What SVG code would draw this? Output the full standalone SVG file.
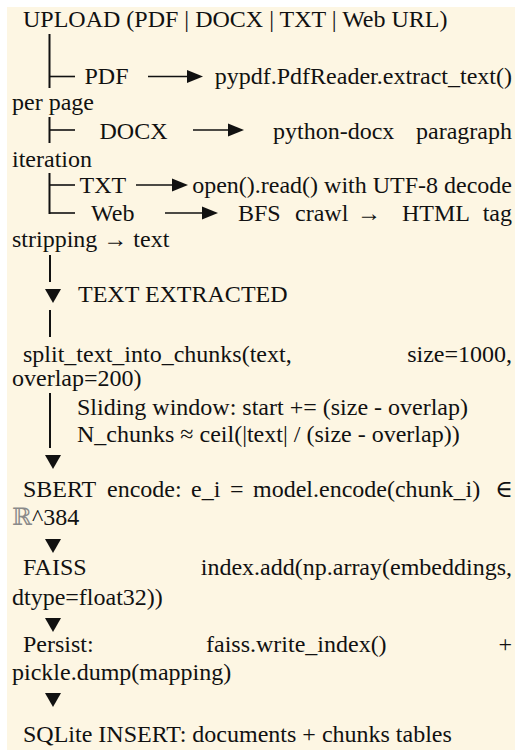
<svg xmlns="http://www.w3.org/2000/svg" xmlns:xlink="http://www.w3.org/1999/xlink" width="515" height="750" viewBox="0 0 515 750">
  <style>
    .t { font-family: "Liberation Serif", "Times New Roman", "DejaVu Serif", serif; font-size: 24px; fill: #111; }
    .dim { fill: #8a8a8a; }
    .vl { stroke: #111; stroke-width: 2; fill: none; }
    .hl { stroke: #111; stroke-width: 1.6; fill: none; }
    .ah { fill: #111; }
  </style>
  <defs>
    <path id="headR" d="M0,-6.5 L16,0 L0,6.5 Z"/>
    <path id="headD" d="M-8,0 L8,0 L0,14 Z"/>
  </defs>

  <!-- panel -->
  <rect x="7" y="7" width="508" height="743" fill="#FDF6E3"/>

  <!-- tree lines, arrows and flow markers -->
  <g id="connectors">
    <!-- source tree -->
    <line class="vl" x1="49.5" y1="34" x2="49.5" y2="88"/>
    <line class="vl" x1="49.5" y1="117" x2="49.5" y2="143"/>
    <line class="vl" x1="49.5" y1="173" x2="49.5" y2="214"/>
    <line class="hl" x1="49.5" y1="76.5" x2="75" y2="76.5"/>
    <line class="hl" x1="49.5" y1="130" x2="75" y2="130"/>
    <line class="hl" x1="49.5" y1="185" x2="75" y2="185"/>
    <line class="hl" x1="49.5" y1="213" x2="75" y2="213"/>
    <!-- extractor arrows -->
    <line class="hl" x1="148" y1="76.5" x2="188" y2="76.5"/>
    <use class="ah" xlink:href="#headR" x="187" y="76.5"/>
    <line class="hl" x1="193" y1="130" x2="229" y2="130"/>
    <use class="ah" xlink:href="#headR" x="228" y="130"/>
    <line class="hl" x1="136" y1="185" x2="173" y2="185"/>
    <use class="ah" xlink:href="#headR" x="172" y="185"/>
    <line class="hl" x1="165" y1="213" x2="203" y2="213"/>
    <use class="ah" xlink:href="#headR" x="202" y="213"/>
    <!-- main flow -->
    <line class="vl" x1="50" y1="255" x2="50" y2="282"/>
    <use class="ah" xlink:href="#headD" x="53" y="289"/>
    <line class="vl" x1="50" y1="310" x2="50" y2="337"/>
    <line class="vl" x1="50" y1="393" x2="50" y2="448"/>
    <use class="ah" xlink:href="#headD" x="53" y="455"/>
    <use class="ah" xlink:href="#headD" x="53" y="539"/>
    <use class="ah" xlink:href="#headD" x="53" y="618"/>
    <use class="ah" xlink:href="#headD" x="53" y="693"/>
  </g>

  <g id="upload">
    <text class="t" x="23" y="27">UPLOAD (PDF | DOCX | TXT | Web URL)</text>
  </g>

  <g id="pdf">
    <text class="t" x="84.5" y="84">PDF</text>
    <text class="t" x="512" y="84" text-anchor="end">pypdf.PdfReader.extract_text()</text>
    <text class="t" x="12" y="110">per page</text>
  </g>

  <g id="docx">
    <text class="t" x="99.5" y="139">DOCX</text>
    <text class="t" x="273" y="139">python-docx</text>
    <text class="t" x="512" y="139" text-anchor="end">paragraph</text>
    <text class="t" x="12" y="167">iteration</text>
  </g>

  <g id="txt">
    <text class="t" x="79.5" y="193">TXT</text>
    <text class="t" x="512" y="193" text-anchor="end">open().read() with UTF-8 decode</text>
  </g>

  <g id="web">
    <text class="t" x="91" y="221">Web</text>
    <text class="t" x="238" y="221">BFS</text>
    <text class="t" x="295" y="221">crawl</text>
    <text class="t" x="357" y="221">→</text>
    <text class="t" x="402" y="221">HTML</text>
    <text class="t" x="512" y="221" text-anchor="end">tag</text>
    <text class="t" x="12" y="247">stripping → text</text>
  </g>

  <g id="text-extracted">
    <text class="t" x="78" y="302">TEXT EXTRACTED</text>
  </g>

  <g id="chunking">
    <text class="t" x="23" y="362">split_text_into_chunks(text,</text>
    <text class="t" x="512" y="362" text-anchor="end">size=1000,</text>
    <text class="t" x="12" y="386">overlap=200)</text>
    <text class="t" x="77" y="415">Sliding window: start += (size - overlap)</text>
    <text class="t" x="77" y="442">N_chunks ≈ ceil(|text| / (size - overlap))</text>
  </g>

  <g id="sbert">
    <text class="t" x="23" y="497">SBERT</text>
    <text class="t" x="107" y="497">encode:</text>
    <text class="t" x="191" y="497">e_i</text>
    <text class="t" x="230" y="497">=</text>
    <text class="t" x="253" y="497">model.encode(chunk_i)</text>
    <text class="t" x="513" y="497" text-anchor="end">∈</text>
    <text class="t" x="12" y="525"><tspan class="dim">ℝ</tspan>^384</text>
  </g>

  <g id="faiss">
    <text class="t" x="23" y="575">FAISS</text>
    <text class="t" x="512" y="575" text-anchor="end">index.add(np.array(embeddings,</text>
    <text class="t" x="12" y="605">dtype=float32))</text>
  </g>

  <g id="persist">
    <text class="t" x="23" y="652">Persist:</text>
    <text class="t" x="206" y="652">faiss.write_index()</text>
    <text class="t" x="512" y="652" text-anchor="end">+</text>
    <text class="t" x="12" y="680">pickle.dump(mapping)</text>
  </g>

  <g id="sqlite">
    <text class="t" x="23" y="742">SQLite INSERT: documents + chunks tables</text>
  </g>
</svg>
